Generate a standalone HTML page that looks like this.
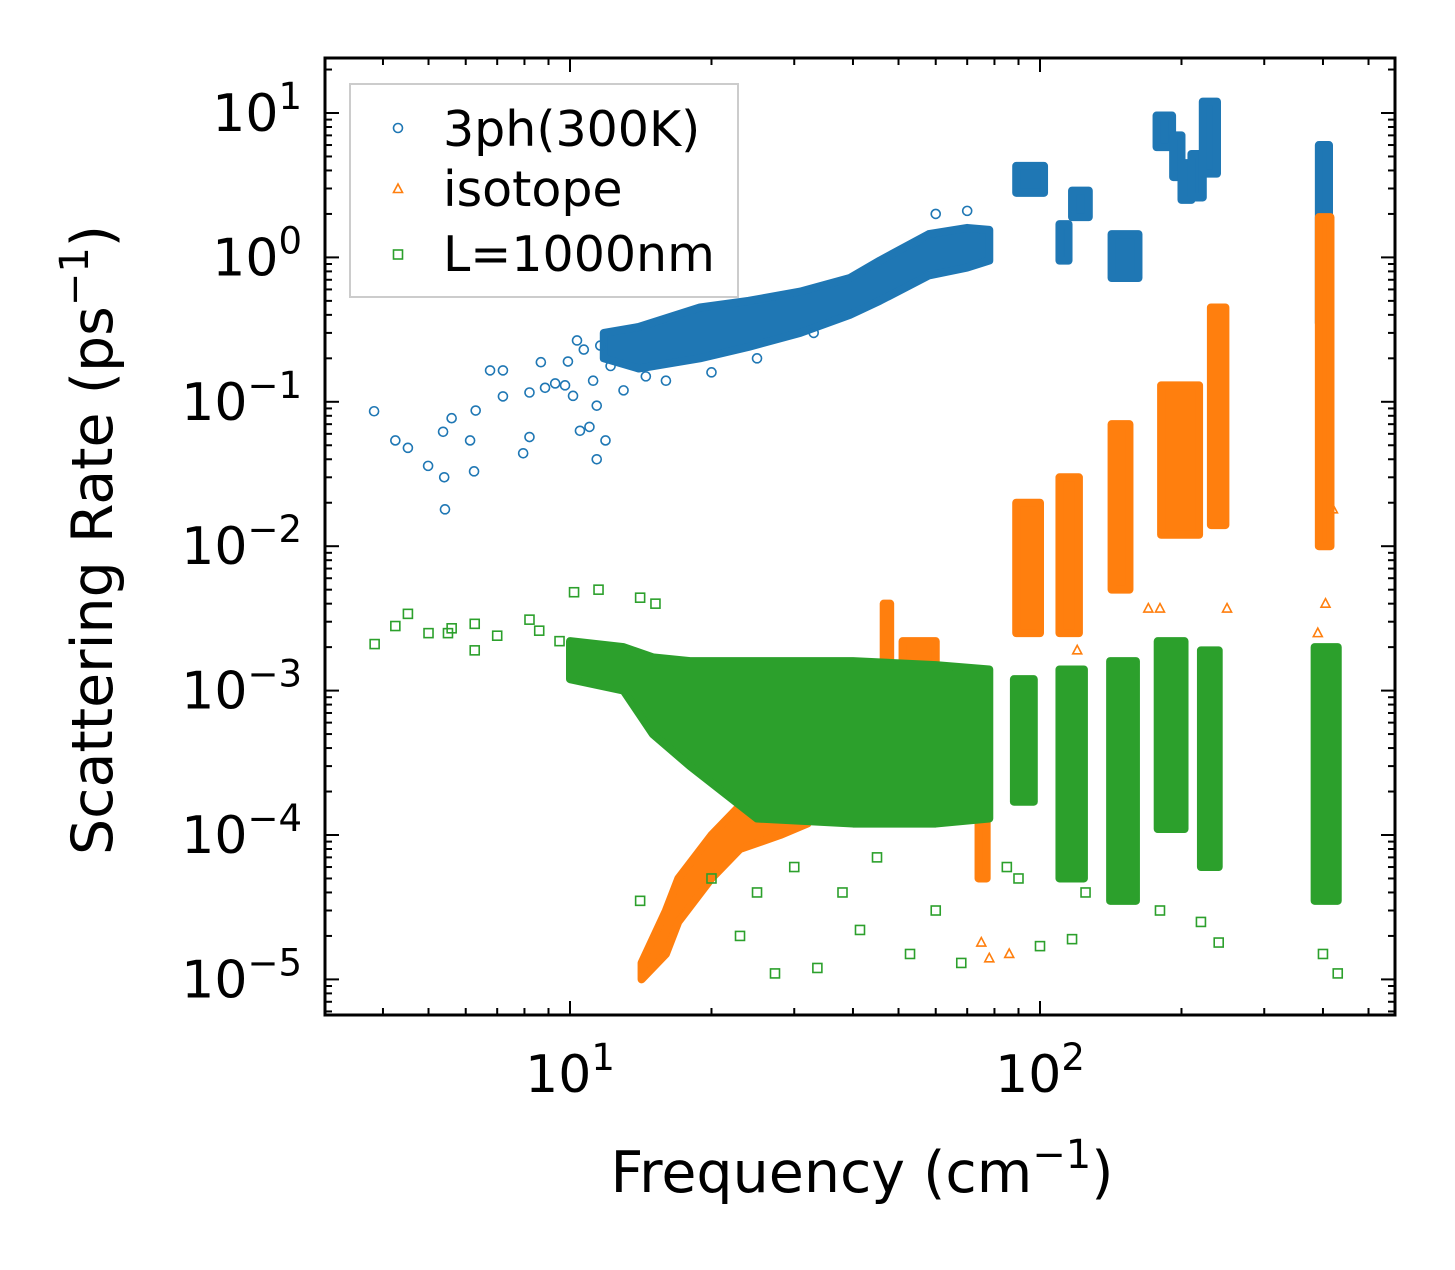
<!DOCTYPE html>
<html><head><meta charset="utf-8"><style>
body{margin:0;background:#fff}
svg text{font-family:"DejaVu Sans","Liberation Sans",sans-serif;fill:#000}
</style></head><body>
<svg id="chart" width="1455" height="1265" viewBox="0 0 1455 1265" xmlns="http://www.w3.org/2000/svg">
<rect width="1455" height="1265" fill="#fff"/>
<g id="marks"></g>
<g id="axes"></g>
</svg>
<script>
// ---- data ----
const xTickValues=[10,100];
const xTickLabels=["1","2"];
const yTickValues=[10,1,0.1,0.01,0.001,0.0001,0.00001];
const yTickLabels=["1","0","−1","−2","−3","−4","−5"];
const ph3Points=[[3.83,0.086],[4.25,0.054],[4.52,0.048],[4.99,0.036],[5.37,0.062],[5.4,0.030],[5.42,0.018],[5.6,0.077],[6.13,0.054],[6.25,0.033],[6.3,0.087],[6.76,0.165],[7.2,0.109],[7.2,0.165],[7.95,0.044],[8.2,0.116],[8.2,0.057],[8.67,0.188],[8.85,0.125],[9.3,0.134],[9.76,0.13],[9.9,0.19],[10.35,0.266],[10.15,0.11],[10.5,0.063],[11.0,0.067],[11.4,0.04],[10.7,0.23],[11.6,0.245],[11.2,0.14],[12.2,0.177],[11.9,0.054],[11.4,0.094],[13,0.12],[14.5,0.15],[16,0.14],[20,0.16],[25,0.2],[33,0.3],[60,2.0],[70,2.1]];
const ph3BandFreq=[11.8,14,18.9,24,30.9,39.4,45.6,58,70,78];
const ph3BandLo=[0.2,0.17,0.2,0.24,0.3,0.4,0.5,0.75,0.85,0.95];
const ph3BandHi=[0.3,0.33,0.45,0.5,0.58,0.72,0.95,1.45,1.6,1.55];
const ph3Clusters=[[89,102,2.8,4.3],[110,115,0.95,1.7],[117,127,1.9,2.9],[142,162,0.72,1.45],[177,191,5.8,9.6],[192,200,3.6,7],[200,210,2.5,4.5],[210,222,2.6,5.2],[222,238,3.8,12],[392,412,0.35,6]];
const isoBandFreq=[14.2,16,17,20,23,28,32];
const isoBandLo=[1e-5,1.5e-5,2.5e-5,5e-5,8e-5,1e-4,1.2e-4];
const isoBandHi=[1.3e-5,3e-5,5e-5,1e-4,1.6e-4,2e-4,2.2e-4];
const isoClusters=[[46.5,48,1e-3,4e-3],[51,60,1e-3,2.2e-3],[74,77,5e-5,3e-4],[89,100,2.5e-3,0.02],[110,121,2.5e-3,0.03],[142,155,5e-3,0.07],[181,218,0.012,0.13],[231,248,0.014,0.45],[392,415,0.01,1.9]];
const isoPoints=[[75,1.8e-5],[78,1.4e-5],[86,1.5e-5],[95,1.1e-3],[120,1.9e-3],[170,3.7e-3],[180,3.7e-3],[250,3.7e-3],[390,2.5e-3],[405,4e-3],[420,1.8e-2]];
const bdPoints=[[3.84,2.1e-3],[4.25,2.8e-3],[4.52,3.4e-3],[5,2.5e-3],[5.5,2.5e-3],[5.6,2.7e-3],[6.27,1.9e-3],[6.27,2.9e-3],[7,2.4e-3],[8.2,3.1e-3],[8.6,2.6e-3],[9.5,2.2e-3],[10.2,4.8e-3],[11.5,5e-3],[14.1,4.4e-3],[15.2,4e-3],[14.1,3.5e-5],[23,2e-5],[27.3,1.1e-5],[33.6,1.2e-5],[41.4,2.2e-5],[52.9,1.5e-5],[68,1.3e-5],[100,1.7e-5],[117,1.9e-5],[400,1.5e-5],[20,5e-5],[25,4e-5],[30,6e-5],[38,4e-5],[45,7e-5],[60,3e-5],[85,6e-5],[90,5e-5],[125,4e-5],[180,3e-5],[220,2.5e-5],[240,1.8e-5],[430,1.1e-5],[12,1.8e-3],[13,1.5e-3]];
const bdBandFreq=[10,13,15,18,25,40,60,78];
const bdBandLo=[1.2e-3,1e-3,5e-4,3e-4,1.3e-4,1.2e-4,1.2e-4,1.3e-4];
const bdBandHi=[2.2e-3,2e-3,1.7e-3,1.6e-3,1.6e-3,1.6e-3,1.5e-3,1.4e-3];
const bdClusters=[[88,97,1.7e-4,1.2e-3],[110,124,5e-5,1.4e-3],[141,160,3.5e-5,1.6e-3],[178,203,1.1e-4,2.2e-3],[220,240,6e-5,1.9e-3],[384,430,3.5e-5,2e-3]];

const L=325,R=1395,T=58,B=1015;
const xs=f=>570+(Math.log10(f)-1)*470;
const ys=v=>113+(1-Math.log10(v))*144.4;
const NS="http://www.w3.org/2000/svg";
const marks=document.getElementById('marks'),axes=document.getElementById('axes');
function mk(tag,attrs,parent){const e=document.createElementNS(NS,tag);for(const k in attrs)e.setAttribute(k,attrs[k]);parent.appendChild(e);return e;}
const C={b:"#1f77b4",o:"#ff7f0e",g:"#2ca02c"};
const clip=mk('clipPath',{id:'pc'},document.getElementById('chart'));
mk('rect',{x:L,y:T,width:R-L,height:B-T},clip);
marks.setAttribute('clip-path','url(#pc)');

function band(fr,lo,hi,col,name){
  let d="M"+fr.map((f,i)=>xs(f)+","+ys(hi[i])).join(" L")+" L"+fr.map((f,i)=>xs(f)+","+ys(lo[i])).reverse().join(" L")+"Z";
  const p=mk('path',{d:d,fill:col,stroke:col,'stroke-width':8,'stroke-linejoin':'round'},marks);
  
  
}
function clusters(arr,col,name){arr.forEach(c=>{
  const r=mk('rect',{x:xs(c[0]),y:ys(c[3]),width:xs(c[1])-xs(c[0]),height:ys(c[2])-ys(c[3]),fill:col,stroke:col,'stroke-width':8,'stroke-linejoin':'round'},marks);
  
  
});}
function marker(type,x,y,col,parent){
  let e;
  if(type==='o')e=mk('circle',{cx:x,cy:y,r:4.5,fill:'none',stroke:col,'stroke-width':1.6},parent);
  else if(type==='^')e=mk('path',{d:`M${x},${y-5} L${x+4.5},${y+3.5} L${x-4.5},${y+3.5}Z`,fill:'none',stroke:col,'stroke-width':1.6},parent);
  else e=mk('rect',{x:x-4.5,y:y-4.5,width:9,height:9,fill:'none',stroke:col,'stroke-width':1.6},parent);
  return e;
}
function points(arr,type,col,name){arr.forEach(p=>{
  const e=marker(type,xs(p[0]),ys(p[1]),col,marks);
  
  
});}
band(ph3BandFreq,ph3BandLo,ph3BandHi,C.b,'3ph-band');
clusters(ph3Clusters,C.b,'3ph-cluster');
points(ph3Points,'o',C.b,'3ph-point');
band(isoBandFreq,isoBandLo,isoBandHi,C.o,'isotope-band');
clusters(isoClusters,C.o,'isotope-cluster');
points(isoPoints,'^',C.o,'isotope-point');
band(bdBandFreq,bdBandLo,bdBandHi,C.g,'boundary-band');
clusters(bdClusters,C.g,'boundary-cluster');
points(bdPoints,'s',C.g,'boundary-point');

const fr=mk('rect',{x:L,y:T,width:R-L,height:B-T,fill:'none',stroke:'#000','stroke-width':3},axes);

for(let d=1;d<=3;d++)for(let m=1;m<=9;m++){const f=m*Math.pow(10,d-1);const x=xs(f);if(x<L||x>R)continue;const len=m===1?14:7;
  mk('line',{x1:x,y1:B,x2:x,y2:B-len,stroke:'#000','stroke-width':2},axes);
  mk('line',{x1:x,y1:T,x2:x,y2:T+len,stroke:'#000','stroke-width':2},axes);}
for(let d=-6;d<=2;d++)for(let m=1;m<=9;m++){const v=m*Math.pow(10,d);const y=ys(v);if(y<T||y>B)continue;const len=m===1?14:7;
  mk('line',{x1:L,y1:y,x2:L+len,y2:y,stroke:'#000','stroke-width':2},axes);
  mk('line',{x1:R,y1:y,x2:R-len,y2:y,stroke:'#000','stroke-width':2},axes);}
function powLabel(x,y,exp,anchor,name){
  const t=mk('text',{x:x,y:y,'font-size':52,'text-anchor':anchor},axes);
  
  
  t.appendChild(document.createTextNode('10'));
  const s=mk('tspan',{'font-size':37,dy:-22},t);s.textContent=exp;
}
xTickValues.forEach((v,i)=>powLabel(xs(v),1092,xTickLabels[i],'middle','x-tick-label'));
yTickValues.forEach((v,i)=>powLabel(302,ys(v)+18,yTickLabels[i],'end','y-tick-label'));
</script>
<script>
const ax=document.getElementById('axes');
ax.insertAdjacentHTML('beforeend',`
<text x="862" y="1192" font-size="57" text-anchor="middle">Frequency (cm<tspan font-size="40" dy="-24">−1</tspan><tspan dy="24">)</tspan></text>
<text transform="translate(112,540) rotate(-90)" font-size="57" text-anchor="middle">Scattering Rate (ps<tspan font-size="40" dy="-24">−1</tspan><tspan dy="24">)</tspan></text>
<g>
<rect x="350" y="84" width="388" height="213" fill="#fff" fill-opacity="0.8" stroke="#ccc" stroke-width="2"/>
<g><circle cx="398" cy="128" r="4.5" fill="none" stroke="#1f77b4" stroke-width="1.6"/><text x="443" y="146" font-size="49">3ph(300K)</text></g>
<g><path d="M398,184 L402.5,192.5 L393.5,192.5Z" fill="none" stroke="#ff7f0e" stroke-width="1.6"/><text x="443" y="206" font-size="49">isotope</text></g>
<g><rect x="393.5" y="250" width="9" height="9" fill="none" stroke="#2ca02c" stroke-width="1.6"/><text x="443" y="271" font-size="49">L=1000nm</text></g>
</g>`);
</script>
</body></html>
